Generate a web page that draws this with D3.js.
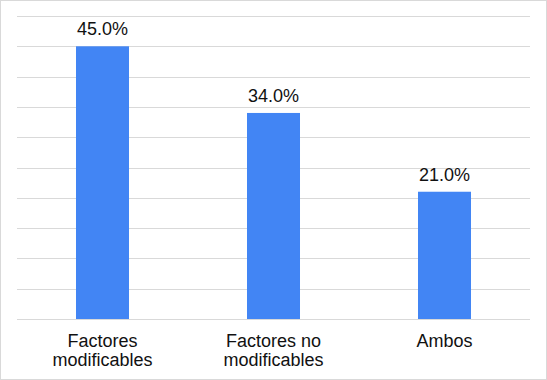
<!DOCTYPE html>
<html><head><meta charset="utf-8">
<script src="https://cdn.jsdelivr.net/npm/d3@7"></script>
<style>body{margin:0;background:#fff}svg{display:block}</style>
</head><body>
<svg id="c" width="547" height="380"></svg>
<script>
const categories = [["Factores","modificables"],["Factores no","modificables"],["Ambos"]];
const values = [45.0, 34.0, 21.0];
const yTicks = [0,5,10,15,20,25,30,35,40,45,50];

const svg = d3.select("#c");
const W = 547, H = 380;
svg.append("rect").attr("x",0.5).attr("y",0.5).attr("width",W-1).attr("height",H-1)
  .attr("fill","#fff").attr("stroke","#d9d9d9");

const x = d3.scaleBand().domain(d3.range(categories.length)).range([17,530])
  .paddingInner(0.69).paddingOuter(0.345);
const y = d3.scaleLinear().domain([0,50]).range([319,16]);

const g = svg.append("g");
g.selectAll("line.grid").data(yTicks).join("line").attr("class","grid")
  .attr("x1",17).attr("x2",530)
  .attr("y1",d=>Math.round(y(d))+0.5).attr("y2",d=>Math.round(y(d))+0.5)
  .attr("stroke","#d9d9d9").attr("stroke-width",1);

g.selectAll("rect.bar").data(values).join("rect").attr("class","bar")
  .attr("x",(d,i)=>x(i)).attr("width",x.bandwidth())
  .attr("y",d=>y(d)).attr("height",d=>y(0)-y(d))
  .attr("fill","#4285f4");

const font = "Liberation Sans, Arial, sans-serif";
g.selectAll("text.val").data(values).join("text").attr("class","val")
  .attr("x",(d,i)=>x(i)+x.bandwidth()/2).attr("y",d=>y(d)-11)
  .attr("text-anchor","middle").attr("font-family",font)
  .attr("font-size",18).attr("fill","#111")
  .text(d=>d.toFixed(1)+"%");

const lab = g.selectAll("text.cat").data(categories).join("text").attr("class","cat")
  .attr("text-anchor","middle").attr("font-family",font)
  .attr("font-size",18).attr("fill","#111");
lab.each(function(d,i){
  const t = d3.select(this);
  d.forEach((line,j)=>{
    t.append("tspan").attr("x",x(i)+x.bandwidth()/2).attr("y",346.5+j*19).text(line);
  });
});
</script>
</body></html>
